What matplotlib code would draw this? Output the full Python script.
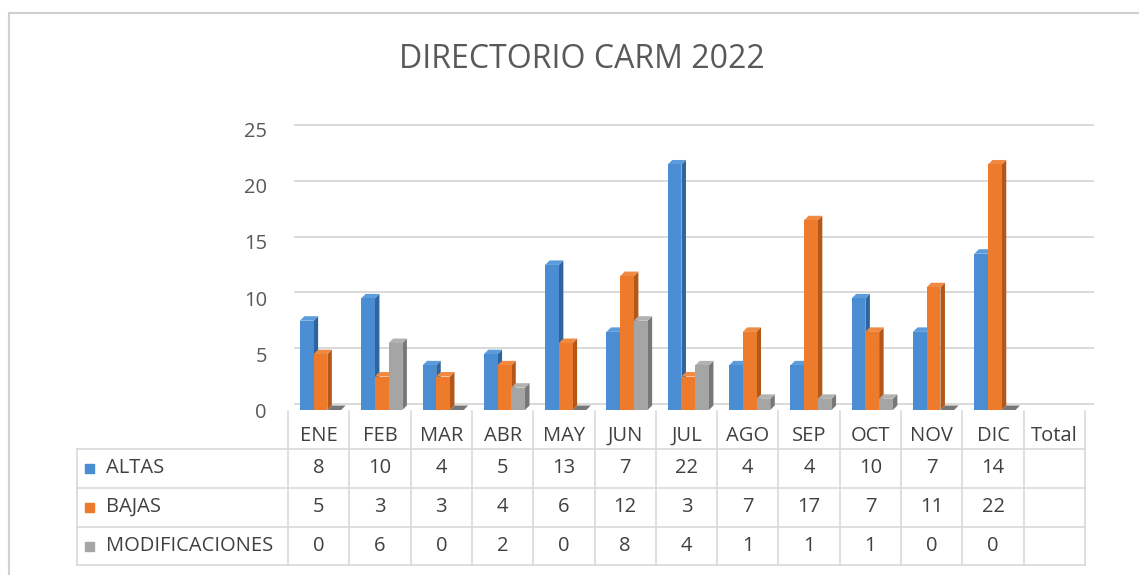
import matplotlib
matplotlib.use("Agg")
import matplotlib.pyplot as plt
from matplotlib.transforms import ScaledTranslation, blended_transform_factory, IdentityTransform
from matplotlib.lines import Line2D
from matplotlib.patches import Rectangle, Polygon
import numpy as np

plt.rcParams['font.family'] = ['Open Sans', 'DejaVu Sans']

months = ["ENE", "FEB", "MAR", "ABR", "MAY", "JUN", "JUL", "AGO", "SEP", "OCT", "NOV", "DIC"]
columns = months + ["Total"]
altas = [8, 10, 4, 5, 13, 7, 22, 4, 4, 10, 7, 14]
bajas = [5, 3, 3, 4, 6, 12, 3, 7, 17, 7, 11, 22]
modificaciones = [0, 6, 0, 2, 0, 8, 4, 1, 1, 1, 0, 0]
series_names = ["ALTAS", "BAJAS", "MODIFICACIONES"]
series_values = [altas, bajas, modificaciones]
yticks = [0, 5, 10, 15, 20, 25]
title = "DIRECTORIO CARM 2022"

front_colors = ["#4A8DD3", "#EE7A2B", "#A5A5A5"]
side_colors = ["#2E64A0", "#B4581A", "#777777"]
top_colors = ["#5C9CDD", "#F08A42", "#B2B2B2"]

W, H = 1139, 575
fig = plt.figure(figsize=(W / 100, H / 100), dpi=100)

def fx(p):
    return p / W

def fy(p):
    return 1 - p / H

y0_px, y25_px = 410, 131
ax = fig.add_axes([fx(288), fy(y0_px), fx(1085) - fx(288), (y0_px - y25_px) / H])
ax.set_xlim(-0.5, len(columns) - 0.5)
ax.set_ylim(0, 25)
ax.axis('off')

# back-wall gridlines (offset for depth)
grid_tr = ax.transData + ScaledTranslation(7 / 100, 6 / 100, fig.dpi_scale_trans)
for v in yticks:
    ax.plot([-0.5, len(columns) - 0.5 + 0.02], [v, v], color="#D9D9D9", lw=1.4,
            transform=grid_tr, clip_on=False, zorder=0)

# y tick labels
lab0, lab25 = 413, 132
for v in yticks:
    fig.text(fx(267), fy(lab0) + (v / 25) * (lab0 - lab25) / H, str(v),
             ha='right', va='center', fontsize=14.5, color="#595959")

# bars with a pseudo-3D depth (front face + side + top, in display coords)
bw = 0.224
dx = 0.03
ddx, ddy = 4.5, 4.5
x = np.arange(len(months))
ident = IdentityTransform()
for k, vals in enumerate(series_values):
    pos = x + dx + (k - 1) * bw
    zb = 2 + 2 * k
    for p, v in zip(pos, vals):
        (x0, y0), (x1, y1) = ax.transData.transform([(p - bw / 2, 0), (p + bw / 2, v)])
        side = Polygon([(x1, y0), (x1 + ddx, y0 + ddy), (x1 + ddx, y1 + ddy), (x1, y1)],
                       closed=True, facecolor=side_colors[k], edgecolor='none',
                       transform=ident, zorder=zb, clip_on=False)
        top = Polygon([(x0, y1), (x0 + ddx, y1 + ddy), (x1 + ddx, y1 + ddy), (x1, y1)],
                      closed=True, facecolor=top_colors[k] if v > 0 else side_colors[k],
                      edgecolor='none', transform=ident, zorder=zb, clip_on=False)
        ax.add_artist(side)
        ax.add_artist(top)
    ax.bar(pos, vals, width=bw, color=front_colors[k], zorder=zb + 1, clip_on=False)

# data table
tr = blended_transform_factory(ax.transData, fig.transFigure)
line_c = "#D9D9D9"
header_y = 436
row_lines = [449, 488, 527, 565]
row_centers = [468, 507, 546]
for k in range(len(columns) + 1):
    fig.add_artist(Line2D([k - 0.5, k - 0.5], [fy(411), fy(row_lines[-1])],
                          transform=tr, color=line_c, lw=1.2))
for ry in row_lines:
    fig.add_artist(Line2D([fx(77), fx(1085)], [fy(ry), fy(ry)], color=line_c, lw=1.2))
fig.add_artist(Line2D([fx(77), fx(77)], [fy(row_lines[0]), fy(row_lines[-1])],
                      color=line_c, lw=1.2))

for i, c in enumerate(columns):
    t = fig.text(i, fy(header_y), c, ha='center', va='center',
                 fontsize=14.5, color="#404040")
    t.set_transform(tr)

for r, (name, vals) in enumerate(zip(series_names, series_values)):
    cy = fy(row_centers[r])
    fig.add_artist(Rectangle((fx(85), cy - 4.5 / H), 9 / W, 9 / H,
                             color=front_colors[r], transform=fig.transFigure))
    fig.text(fx(106), cy, name, ha='left', va='center', fontsize=14.5, color="#404040")
    for i, v in enumerate(vals):
        t = fig.text(i, cy, str(v), ha='center', va='center',
                     fontsize=14.5, color="#404040")
        t.set_transform(tr)

# title
fig.text(fx(582), fy(59), title, ha='center', va='center', fontsize=23, color="#595959")

# outer chart border
fig.add_artist(Rectangle((fx(9), fy(H + 10)), fx(W + 40) - fx(9), fy(13) - fy(H + 10),
                         fill=False, edgecolor="#D0D0D0", lw=1.5, transform=fig.transFigure))

fig.savefig("out.png", dpi=100)
